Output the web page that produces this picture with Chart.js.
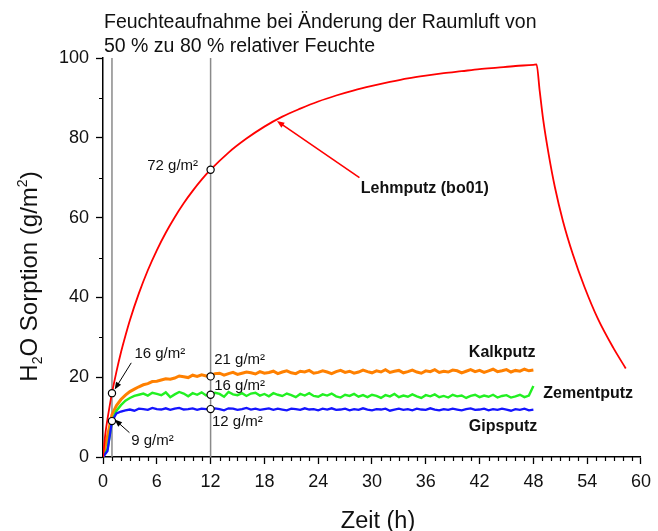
<!DOCTYPE html>
<html><head><meta charset="utf-8">
<script src="https://cdn.jsdelivr.net/npm/chart.js@4"></script>
<style>html,body{margin:0;padding:0;background:#fff}#wrap{width:658px;height:531px;position:relative}</style>
</head><body><div id="wrap"><canvas id="c" width="658" height="531"></canvas></div>
<script>
// ---------- data ----------
const titleLines = ['Feuchteaufnahme bei Änderung der Raumluft von', '50 % zu 80 % relativer Feuchte'];
const xTitle = 'Zeit (h)';
const xTicks = [0, 6, 12, 18, 24, 30, 36, 42, 48, 54, 60];
const yTicks = [0, 20, 40, 60, 80, 100];

// Lehmputz (bo01)
const lehmHours = [0, 0.25, 0.5, 0.75, 1, 1.5, 2, 2.5, 3, 4, 5, 6, 7, 8, 9, 10, 11, 12, 14, 16, 18, 20, 22, 24, 26, 28, 30, 32, 34, 36, 38, 40, 42, 44, 46, 48, 48.35, 48.7, 49.1, 49.7, 50.4, 51.3, 52.4, 53.7, 55.2, 56.9, 58.3];
const lehmputz = [0, 5.6, 9.5, 12.9, 16, 21.4, 26.2, 30.4, 34.3, 41.0, 46.8, 51.8, 56.2, 60.1, 63.6, 66.7, 69.5, 72, 76.3, 79.8, 82.8, 85.3, 87.3, 89.1, 90.6, 91.9, 93.0, 94.0, 94.9, 95.6, 96.2, 96.7, 97.2, 97.6, 98.0, 98.3, 98.4, 91.8, 84.4, 75.9, 67.6, 59.1, 50.8, 42.6, 34.6, 27.4, 22.2];

// common time base of the three mineral plasters (h)
const hours = [0,0.5,1,1.5,2,2.5,3,3.5,4,4.5, 5,5.5,6,6.5,7,7.5,8,8.5,9,9.5, 10,10.5,11,11.5,12,12.5,13,13.5,14,14.5, 15,15.5,16,16.5,17,17.5,18,18.5,19,19.5, 20,20.5,21,21.5,22,22.5,23,23.5,24,24.5, 25,25.5,26,26.5,27,27.5,28,28.5,29,29.5, 30,30.5,31,31.5,32,32.5,33,33.5,34,34.5, 35,35.5,36,36.5,37,37.5,38,38.5,39,39.5, 40,40.5,41,41.5,42,42.5,43,43.5,44,44.5, 45,45.5,46,46.5,47,47.5,48];
const kalkputz = [
  0,5.2,10.6,12.9,14.4,15.5,16.4,17.0,17.6,18.1,
  18.4,18.9,19.0,19.3,19.6,19.5,19.8,20.3,20.1,19.9,
  20.5,20.2,20.6,20.3,20.4,20.9,21.0,20.5,20.9,21.2,
  20.7,21.0,21.3,21.1,20.8,21.4,21.0,21.2,21.5,20.9,
  21.3,21.6,21.1,20.9,21.5,21.3,21.7,21.0,21.2,21.6,
  21.3,20.9,21.4,21.7,21.2,21.5,21.0,21.3,21.8,21.4,
  21.1,21.6,21.3,21.9,21.2,21.5,21.7,21.1,21.4,21.8,
  21.3,21.0,21.6,21.4,21.9,21.2,21.5,21.3,21.8,21.6,
  21.1,21.5,21.9,21.4,21.7,21.2,21.6,22.0,21.4,21.6,
  21.9,21.3,21.7,21.5,22.0,21.6,21.8];
const zementputz = [
  0,2.0,9.0,11.6,13.0,14.1,14.8,15.3,15.6,15.9,
  15.4,16.1,15.8,15.5,16.2,15.0,15.7,16.3,15.9,15.2,
  16.0,15.6,16.2,15.4,15.7,16.1,15.8,15.1,16.3,15.7,
  15.5,16.0,15.3,15.9,16.1,15.4,15.8,15.2,16.0,15.6,
  15.3,15.9,15.5,15.0,15.8,15.4,16.0,15.3,15.1,15.7,
  15.4,15.9,15.2,14.9,15.6,15.3,15.8,15.1,15.5,15.0,
  15.6,15.3,14.8,15.5,15.2,15.8,15.0,15.4,15.1,15.7,
  15.2,14.8,15.5,15.2,15.7,15.0,15.3,14.9,15.6,15.2,
  15.4,14.8,15.3,15.6,15.0,15.4,15.1,15.6,14.9,15.3,
  15.5,14.9,15.2,15.6,15.0,15.4,17.8];
const gipsputz = [
  0,1.5,9.0,10.9,11.4,11.7,11.9,11.6,12.1,12.0,
  11.8,12.3,12.0,11.9,12.2,11.8,12.1,12.3,11.9,12.0,
  12.2,11.8,12.1,12.0,11.9,12.2,12.0,11.7,12.2,12.1,
  11.8,12.0,12.3,11.9,12.1,11.8,12.0,12.2,11.8,12.1,
  11.9,11.7,12.1,12.0,11.8,12.2,11.9,12.0,11.7,12.1,
  11.9,12.2,11.8,11.9,12.1,11.7,12.0,11.8,12.2,11.9,
  11.7,12.0,11.9,12.1,11.6,11.9,12.1,11.8,12.0,11.7,
  12.1,11.9,11.8,12.2,11.9,11.7,12.0,11.8,12.1,11.9,
  11.7,12.0,12.2,11.8,11.9,12.1,11.7,12.0,11.8,12.1,
  11.9,11.6,12.0,11.8,12.1,11.7,11.9];

// reference times (vertical lines) and marked values
const refHours = [1, 12];
const markHours = [1, 1, 12, 12, 12, 12];
const markValues = [16, 9, 72, 20.2, 15.6, 12];

// annotation texts (data coordinates)
const valueNotes = [
  {text: '72 g/m²', x: 10.6, y: 72.9, align: 'right'},
  {text: '16 g/m²', x: 3.5, y: 25.9, align: 'left'},
  {text: '9 g/m²', x: 3.15, y: 4.1, align: 'left'},
  {text: '21 g/m²', x: 12.4, y: 24.3, align: 'left'},
  {text: '16 g/m²', x: 12.4, y: 17.9, align: 'left'},
  {text: '12 g/m²', x: 12.15, y: 8.8, align: 'left'}
];
const seriesNotes = [
  {text: 'Lehmputz (bo01)', x: 28.75, y: 67.3},
  {text: 'Kalkputz', x: 40.8, y: 26.2},
  {text: 'Zementputz', x: 49.1, y: 15.9},
  {text: 'Gipsputz', x: 40.8, y: 7.6}
];
const arrows = [
  {from: [3.15, 23.6], to: [1.3, 16.9], color: '#000'},
  {from: [2.95, 6.1], to: [1.3, 9.4], color: '#000'},
  {from: [28.6, 70.0], to: [19.4, 84.2], color: '#ff0000'}
];

// ---------- chart ----------
const FONT = '"Liberation Sans", Arial, Helvetica, sans-serif';
const pts = (xs, ys) => xs.map((x, i) => ({x, y: ys[i]}));

function drawArrow(ctx, x1, y1, x2, y2, color, lw, head) {
  const a = Math.atan2(y2 - y1, x2 - x1);
  ctx.save();
  ctx.strokeStyle = color; ctx.fillStyle = color; ctx.lineWidth = lw;
  ctx.beginPath(); ctx.moveTo(x1, y1);
  ctx.lineTo(x2 - head * 0.8 * Math.cos(a), y2 - head * 0.8 * Math.sin(a)); ctx.stroke();
  ctx.beginPath(); ctx.moveTo(x2, y2);
  ctx.lineTo(x2 - head * Math.cos(a - 0.38), y2 - head * Math.sin(a - 0.38));
  ctx.lineTo(x2 - head * Math.cos(a + 0.38), y2 - head * Math.sin(a + 0.38));
  ctx.closePath(); ctx.fill();
  ctx.restore();
}

const overlay = {
  id: 'overlay',
  afterDatasetsDraw(chart) {
    const {ctx} = chart, xs = chart.scales.x, ys = chart.scales.y;
    arrows.forEach(a => drawArrow(ctx, xs.getPixelForValue(a.from[0]), ys.getPixelForValue(a.from[1]),
      xs.getPixelForValue(a.to[0]), ys.getPixelForValue(a.to[1]), a.color, a.color === '#000' ? 1 : 1.6, 8));
    ctx.save();
    ctx.fillStyle = '#111'; ctx.textBaseline = 'middle';
    ctx.font = `15px ${FONT}`;
    valueNotes.forEach(n => { ctx.textAlign = n.align; ctx.fillText(n.text, xs.getPixelForValue(n.x), ys.getPixelForValue(n.y)); });
    ctx.font = `bold 16px ${FONT}`; ctx.textAlign = 'left';
    seriesNotes.forEach(n => ctx.fillText(n.text, xs.getPixelForValue(n.x), ys.getPixelForValue(n.y)));
    ctx.restore();
  },
  afterDraw(chart) {
    const {ctx} = chart, xs = chart.scales.x, ys = chart.scales.y;
    ctx.save();
    // minor ticks
    ctx.strokeStyle = '#000'; ctx.lineWidth = 1.2;
    ctx.beginPath();
    for (let v = 0; v <= 60; v++) {
      if (v % 6 === 0) continue;
      const px = Math.round(xs.getPixelForValue(v)) + 0.5;
      ctx.moveTo(px, ys.bottom); ctx.lineTo(px, ys.bottom + 4);
    }
    for (let v = 10; v < 100; v += 20) {
      const py = Math.round(ys.getPixelForValue(v)) + 0.5;
      ctx.moveTo(xs.left - 4, py); ctx.lineTo(xs.left, py);
    }
    ctx.stroke();
    // chart title
    ctx.fillStyle = '#111'; ctx.textAlign = 'left'; ctx.textBaseline = 'alphabetic';
    ctx.font = `19.5px ${FONT}`;
    ctx.fillText(titleLines[0], 104, 28);
    ctx.fillText(titleLines[1], 104, 51.5);
    // x title
    ctx.font = `23.5px ${FONT}`; ctx.textAlign = 'center';
    ctx.fillText(xTitle, 378, 528);
    // y title with sub/superscript
    const big = `24px ${FONT}`, small = `14px ${FONT}`;
    const parts = [
      {t: 'H', f: big, dy: 0}, {t: '2', f: small, dy: 5},
      {t: 'O Sorption (g/m', f: big, dy: 0}, {t: '2', f: small, dy: -10},
      {t: ')', f: big, dy: 0}];
    let total = 0;
    parts.forEach(p => { ctx.font = p.f; p.w = ctx.measureText(p.t).width; total += p.w; });
    ctx.translate(37, 276.5); ctx.rotate(-Math.PI / 2);
    ctx.textAlign = 'left';
    let x = -total / 2;
    parts.forEach(p => { ctx.font = p.f; ctx.fillText(p.t, x, p.dy); x += p.w; });
    ctx.restore();
  }
};

const axisCommon = {
  grid: {display: true, drawOnChartArea: false, drawTicks: true, tickLength: 7, tickWidth: 1.3, tickColor: '#000'},
  border: {display: true, color: '#000', width: 1.5}
};

new Chart(document.getElementById('c'), {
  type: 'scatter',
  data: {
    datasets: [
      {label: 'marks', data: pts(markHours, markValues), showLine: false, pointRadius: 3.6,
        pointBackgroundColor: '#fff', pointBorderColor: '#000', pointBorderWidth: 1.2},
      {label: 'Lehmputz (bo01)', data: pts(lehmHours, lehmputz), showLine: true, borderColor: '#ff0000',
        borderWidth: 1.8, pointRadius: 0, cubicInterpolationMode: 'monotone'},
      {label: 'Gipsputz', data: pts(hours, gipsputz), showLine: true, borderColor: '#1515ff',
        borderWidth: 2.3, pointRadius: 0},
      {label: 'Zementputz', data: pts(hours, zementputz), showLine: true, borderColor: '#22f022',
        borderWidth: 2.4, pointRadius: 0},
      {label: 'Kalkputz', data: pts(hours, kalkputz), showLine: true, borderColor: '#ff8000',
        borderWidth: 3, pointRadius: 0},
      ...refHours.map(h => ({label: 'ref ' + h, data: pts([h, h], [yTicks[0], yTicks[yTicks.length - 1]]),
        showLine: true, borderColor: '#8a8a8a', borderWidth: 1.5, pointRadius: 0}))
    ]
  },
  options: {
    responsive: false, animation: false, devicePixelRatio: 1,
    layout: {padding: {top: 58, right: 12, left: 0, bottom: 0}},
    plugins: {legend: {display: false}, tooltip: {enabled: false}, title: {display: false}},
    scales: {
      x: {type: 'linear', min: xTicks[0], max: xTicks[xTicks.length - 1], ...axisCommon,
        afterFit: s => { s.height = 74; },
        afterBuildTicks: s => { s.ticks = xTicks.map(v => ({value: v})); },
        ticks: {color: '#111', font: {family: FONT, size: 18}, padding: 7, maxRotation: 0}},
      y: {type: 'linear', min: yTicks[0], max: yTicks[yTicks.length - 1], ...axisCommon,
        afterFit: s => { s.width = 103; },
        afterBuildTicks: s => { s.ticks = yTicks.map(v => ({value: v})); },
        ticks: {color: '#111', font: {family: FONT, size: 18}, padding: 7}}
    }
  },
  plugins: [overlay]
});
</script></body></html>
